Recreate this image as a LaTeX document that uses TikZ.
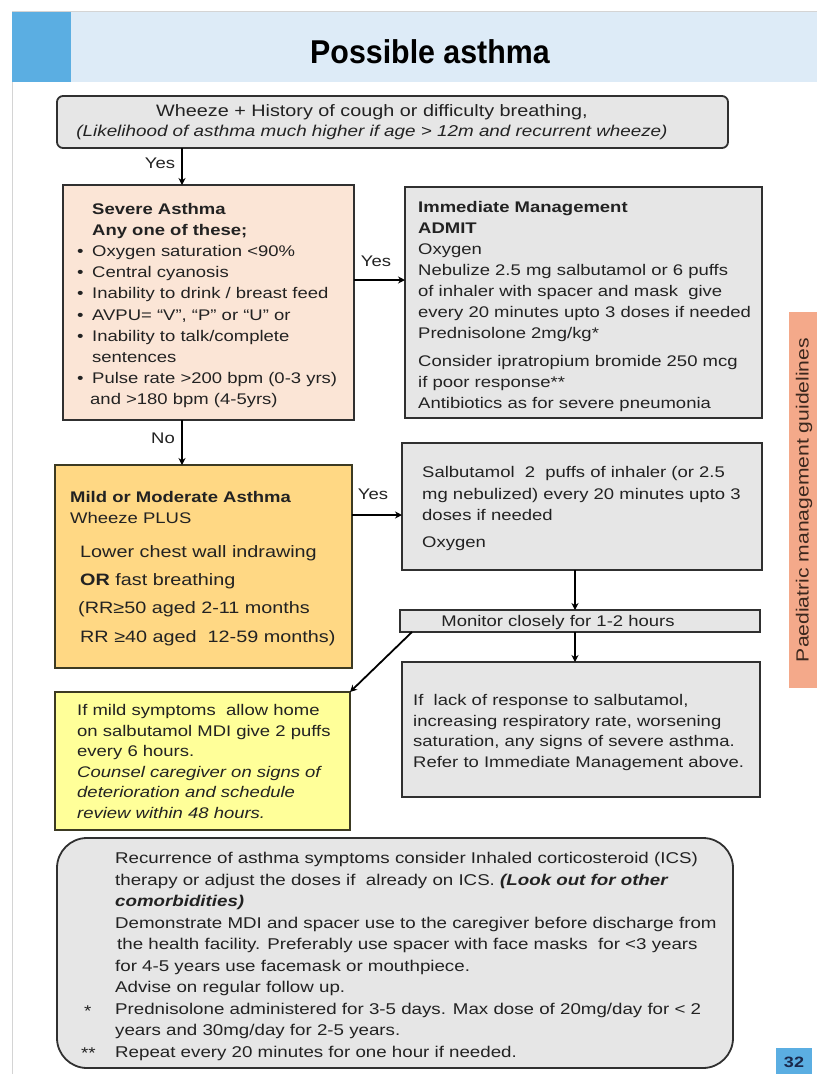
\documentclass[tikz,border=0pt]{standalone}
\usepackage{fontspec}
\setmainfont{Liberation Sans}[FakeStretch=1.2]
\newfontfamily\titlefont{Liberation Sans}[FakeStretch=0.92]
\usetikzlibrary{arrows.meta,calc}

\definecolor{hdrband}{HTML}{DDEBF7}
\definecolor{hdrblue}{HTML}{5BAEE2}
\definecolor{peach}{HTML}{FBE5D6}
\definecolor{boxgray}{HTML}{E6E6E6}
\definecolor{mildorange}{HTML}{FFD884}
\definecolor{paleyellow}{HTML}{FFFF99}
\definecolor{tabsalmon}{HTML}{F4A98A}
\definecolor{ink}{HTML}{222222}
\definecolor{edge}{HTML}{303030}
\definecolor{olive}{HTML}{3C3A22}
\definecolor{pagerule}{HTML}{D4D4D4}

% top-aligned text blocks: the baseline is that of the first line
\newcommand{\lftblock}[1]{\begin{tabular}[t]{@{}l@{}}#1\end{tabular}}
\newcommand{\ctrblock}[1]{\begin{tabular}[t]{@{}c@{}}#1\end{tabular}}

\tikzset{
  box/.style={draw=edge, line width=1.5pt, inner sep=0pt, outer sep=0pt, anchor=north west},
  txt/.style={anchor=base west, inner sep=0pt, text=ink},
  lbl/.style={inner sep=0pt, text=ink},
  arr/.style={draw=black, line width=1.8pt, -{Stealth[length=7pt,width=7pt]}},
}

\begin{document}
\begin{tikzpicture}[x=1pt, y=-1pt, font=\fontsize{15.4}{21}\selectfont]
\useasboundingbox (0,0) rectangle (817,1074);
\fill[white] (0,0) rectangle (817,1074);

% page rules and header band
\draw[pagerule, line width=0.8pt] (12,11) -- (817,11);
\draw[pagerule, line width=0.8pt] (12,82) -- (12,1074);
\fill[hdrband] (71,12) rectangle (817,82);
\fill[hdrblue] (12,12) rectangle (71,82);
\node[lbl, anchor=base, font=\titlefont\bfseries\fontsize{33}{36}\selectfont, text=black] (title) at (430,63) {Possible asthma};

% side tab
\fill[tabsalmon] (789,312) rectangle (817,688);
\node[lbl, rotate=90, font=\fontsize{17.6}{20}\selectfont, text={rgb,255:red,60;green,40;blue,30}] (tab) at (804,500) {Paediatric management guidelines};

% page number
\fill[hdrblue] (776,1048) rectangle (812,1074);
\node[lbl, font=\bfseries\fontsize{15}{18}\selectfont, text={rgb,255:red,25;green,40;blue,75}] (pgno) at (794,1062) {32};

% boxes
\node[box, fill=boxgray, rounded corners=6pt, line width=1.8pt, minimum width=671, minimum height=52] (top) at (57,96) {};
\node[box, fill=peach, minimum width=291, minimum height=235] (sev) at (63,185) {};
\node[box, fill=boxgray, minimum width=357, minimum height=231] (imm) at (405,187) {};
\node[box, fill=mildorange, draw=olive, minimum width=297, minimum height=203] (mild) at (55,465) {};
\node[box, fill=boxgray, minimum width=360, minimum height=127] (sal) at (402,443) {};
\node[box, fill=boxgray, minimum width=360, minimum height=22] (mon) at (400,610) {};
\node[box, fill=boxgray, minimum width=358, minimum height=135] (lack) at (402,662) {};
\node[box, fill=paleyellow, draw=olive, minimum width=295, minimum height=138] (yel) at (55,692) {};
\node[box, fill=boxgray, rounded corners=30pt, line width=1.8pt, minimum width=676, minimum height=230] (note) at (57,838) {};

% texts
\node[lbl, anchor=base, font=\fontsize{16.5}{20}\selectfont] (toptxt) at (372,116)
  {\ctrblock{Wheeze + History of cough or difficulty breathing,\\
   {\fontsize{15.7}{20}\selectfont\textit{(Likelihood of asthma much higher if age > 12m and recurrent wheeze)}}}};

\node[txt, font=\fontsize{15.4}{21.2}\selectfont] (sevtxt) at (77,214)
  {\lftblock{\hspace*{15pt}\textbf{Severe Asthma}\\
   \hspace*{15pt}\textbf{Any one of these;}\\
   \makebox[15pt][l]{•}Oxygen saturation <90\%\\
   \makebox[15pt][l]{•}Central cyanosis\\
   \makebox[15pt][l]{•}Inability to drink / breast feed\\
   \makebox[15pt][l]{•}AVPU= “V”, “P” or “U” or\\
   \makebox[15pt][l]{•}Inability to talk/complete\\
   \hspace*{15pt}sentences\\
   \makebox[15pt][l]{•}Pulse rate >200 bpm (0-3 yrs)\\
   \hspace*{13pt}and >180 bpm (4-5yrs)}};

\node[txt] (immtxt) at (418,212.5)
  {\lftblock{\textbf{Immediate Management}\\
   \textbf{ADMIT}\\
   Oxygen\\
   Nebulize 2.5 mg salbutamol or 6 puffs\\
   of inhaler with spacer and mask \ give\\
   every 20 minutes upto 3 doses if needed\\
   Prednisolone 2mg/kg*\\[7pt]
   Consider ipratropium bromide 250 mcg\\
   if poor response**\\
   Antibiotics as for severe pneumonia}};

\node[txt] (mildhead) at (70,502.5)
  {\lftblock{\textbf{Mild or Moderate Asthma}\\
   Wheeze PLUS}};
\node[txt, font=\fontsize{16.5}{28.4}\selectfont] (mildtxt) at (80,557)
  {\lftblock{Lower chest wall indrawing\\
   \textbf{OR} fast breathing\\
   \hspace*{-2pt}(RR≥50 aged 2-11 months\\
   RR ≥40 aged \ 12-59 months)}};

\node[txt, font=\fontsize{15.4}{21.5}\selectfont] (saltxt) at (422,477.5)
  {\lftblock{Salbutamol \ 2 \ puffs of inhaler (or 2.5\\
   mg nebulized) every 20 minutes upto 3\\
   doses if needed\\[5pt]
   Oxygen}};

\node[lbl, anchor=base] (montxt) at (558,626.5) {Monitor closely for 1-2 hours};

\node[txt, font=\fontsize{15.4}{20.7}\selectfont] (lacktxt) at (413,705.5)
  {\lftblock{If \ lack of response to salbutamol,\\
   increasing respiratory rate, worsening\\
   saturation, any signs of severe asthma.\\
   Refer to Immediate Management above.}};

\node[txt, font=\fontsize{15.4}{20.6}\selectfont] (yeltxt) at (77,715.5)
  {\lftblock{If mild symptoms \ allow home\\
   on salbutamol MDI give 2 puffs\\
   every 6 hours.\\
   \textit{Counsel caregiver on signs of}\\
   \textit{deterioration and schedule}\\
   \textit{review within 48 hours.}}};

\node[txt, font=\fontsize{15.6}{21.5}\selectfont] (notetxt) at (115,863.5)
  {\lftblock{Recurrence of asthma symptoms consider Inhaled corticosteroid (ICS)\\
   therapy or adjust the doses if \ already on ICS. \textbf{\textit{(Look out for other}}\\
   \textbf{\textit{comorbidities)}}\\
   Demonstrate MDI and spacer use to the caregiver before discharge from\\
   \hspace*{2pt}the health facility. Preferably use spacer with face masks \ for <3 years\\
   for 4-5 years use facemask or mouthpiece.\\
   Advise on regular follow up.\\
   Prednisolone administered for 3-5 days. Max dose of 20mg/day for < 2\\
   years and 30mg/day for 2-5 years.\\
   Repeat every 20 minutes for one hour if needed.}};
\node[txt, font=\fontsize{15.6}{20}\selectfont] (star1) at (84,1016) {*};
\node[txt, font=\fontsize{15.6}{20}\selectfont] (star2) at (81,1058) {**};

% connector labels
\node[lbl] (yes1) at (160,163) {Yes};
\node[lbl] (yes2) at (376,261) {Yes};
\node[lbl] (no1) at (163,438) {No};
\node[lbl] (yes3) at (373,494) {Yes};

% connectors
\coordinate (dx) at (182,0);
\coordinate (ax) at (575,0);
\coordinate (ya) at (0,280);
\coordinate (yb) at (0,515);
\draw[arr] (top.south -| dx) -- (sev.north -| dx);
\draw[arr] (sev.south -| dx) -- (mild.north -| dx);
\draw[arr] (sev.east |- ya) -- (imm.west |- ya);
\draw[arr] (mild.east |- yb) -- (sal.west |- yb);
\draw[arr] (sal.south -| ax) -- (mon.north -| ax);
\draw[arr] (mon.south -| ax) -- (lack.north -| ax);
\draw[arr] ($(mon.south west)+(12,0)$) -- (yel.north east);
\end{tikzpicture}
\end{document}
